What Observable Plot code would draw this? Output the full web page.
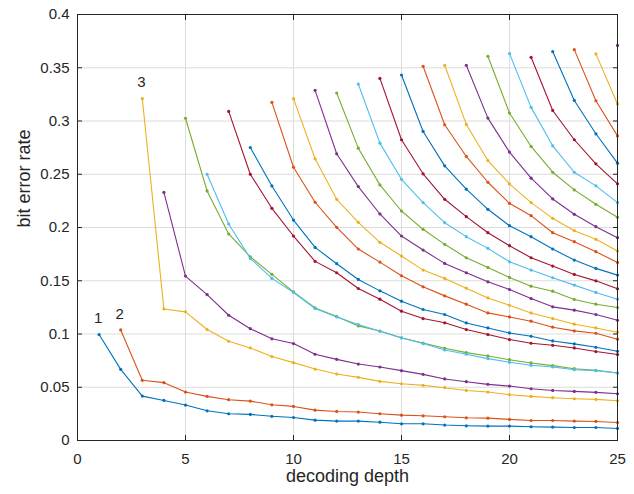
<!DOCTYPE html>
<html><head><meta charset="utf-8">
<script src="https://cdn.jsdelivr.net/npm/d3@7"></script>
<script src="https://cdn.jsdelivr.net/npm/@observablehq/plot@0.6"></script>
<style>body{margin:0;background:#fff;} svg{display:block;}</style>
</head><body><div id="chart"></div>
<script>
// Each series ends at decoding depth 25; it starts at 26 - length.
const maxDepth = 25;
const s1 = [0.0995,0.0668,0.0417,0.0376,0.0333,0.0279,0.0251,0.0245,0.0227,0.0216,0.0191,0.0182,0.0182,0.0172,0.0157,0.0157,0.0145,0.0138,0.0135,0.0135,0.0129,0.0126,0.0122,0.0122,0.0113];
const s2 = [0.1038,0.0565,0.0543,0.0455,0.0414,0.0383,0.0370,0.0335,0.0320,0.0285,0.0273,0.0267,0.0251,0.0238,0.0232,0.0223,0.0213,0.0210,0.0198,0.0188,0.0188,0.0182,0.0179,0.0169];
const s3 = [0.321,0.1235,0.1208,0.1042,0.0932,0.0869,0.0788,0.0731,0.0671,0.0624,0.0593,0.0555,0.0533,0.0518,0.0496,0.0470,0.0455,0.0430,0.0414,0.0402,0.0392,0.0386,0.0373];
const s4 = [0.233,0.1544,0.137,0.1176,0.105,0.0955,0.091,0.081,0.0762,0.0718,0.069,0.0656,0.0621,0.0578,0.0552,0.0527,0.0511,0.0486,0.047,0.0461,0.0452,0.0439];
const s5 = [0.3026,0.2343,0.1939,0.1725,0.156,0.1396,0.1245,0.1165,0.1076,0.1028,0.0965,0.0915,0.0866,0.0825,0.0794,0.0759,0.0728,0.0703,0.0674,0.0659,0.0634];
const s6 = [0.25,0.2033,0.171,0.1522,0.139,0.124,0.116,0.1089,0.1026,0.0963,0.091,0.085,0.081,0.0769,0.0734,0.0706,0.069,0.0665,0.0656,0.0634];
const s7 = [0.309,0.25,0.218,0.192,0.1682,0.1575,0.1427,0.1327,0.1214,0.1145,0.1105,0.1042,0.0995,0.0948,0.0913,0.0894,0.0869,0.0835,0.0807];
const s8 = [0.2751,0.239,0.207,0.1813,0.166,0.1512,0.1405,0.1308,0.123,0.1183,0.1104,0.1057,0.101,0.0979,0.0935,0.0907,0.0875,0.0838];
const s9 = [0.3175,0.2566,0.2237,0.2002,0.1798,0.1675,0.1547,0.1443,0.1358,0.128,0.1198,0.116,0.112,0.1064,0.1029,0.1007,0.0951];
const s10 = [0.321,0.2645,0.2265,0.2049,0.1861,0.1732,0.16,0.1522,0.143,0.1339,0.127,0.1198,0.1145,0.1092,0.1057,0.1016];
const s11 = [0.3288,0.2692,0.2384,0.2127,0.192,0.1788,0.1663,0.1575,0.149,0.1418,0.1333,0.1255,0.1224,0.1183,0.1129];
const s12 = [0.3263,0.2745,0.24,0.2155,0.1983,0.1842,0.1716,0.1625,0.1531,0.1449,0.1402,0.1324,0.128,0.1249];
const s13 = [0.3347,0.2792,0.2453,0.2234,0.2045,0.1914,0.1804,0.1678,0.16,0.1528,0.1459,0.139,0.1327];
const s14 = [0.34,0.2824,0.2504,0.2265,0.2102,0.1951,0.1829,0.1716,0.1638,0.1559,0.1499,0.1424];
const s15 = [0.3432,0.2902,0.2579,0.236,0.2171,0.2017,0.1914,0.1798,0.1694,0.1616,0.1553];
const s16 = [0.3514,0.2965,0.2667,0.2425,0.2227,0.2111,0.1951,0.1867,0.1773,0.1672];
const s17 = [0.3523,0.2968,0.2629,0.2409,0.2234,0.2086,0.197,0.1889,0.1779];
const s18 = [0.3523,0.3027,0.2708,0.2463,0.2268,0.2124,0.2008,0.1904];
const s19 = [0.3608,0.3075,0.2761,0.2519,0.2353,0.2218,0.2096];
const s20 = [0.3633,0.3128,0.2767,0.2519,0.2391,0.2234];
const s21 = [0.3598,0.3099,0.2824,0.2598,0.241];
const s22 = [0.3652,0.3193,0.288,0.2604];
const s23 = [0.367,0.319,0.286];
const s24 = [0.363,0.316];
const s25 = [0.371];
const seriesList = [s1,s2,s3,s4,s5,s6,s7,s8,s9,s10,s11,s12,s13,s14,s15,s16,s17,s18,s19,s20,s21,s22,s23,s24,s25];

const colors = ["#0072BD","#D95319","#EDB120","#7E2F8E","#77AC30","#4DBEEE","#A2142F"];
const xTicks = [0,5,10,15,20,25];
const yTicks = [0,0.05,0.1,0.15,0.2,0.25,0.3,0.35,0.4];
const yTickLabels = ["0","0.05","0.1","0.15","0.2","0.25","0.3","0.35","0.4"];
const curveLabels = ["1","2","3"];
const xLabel = "decoding depth";
const yLabel = "bit error rate";

const data = seriesList.flatMap((vals, i) =>
  vals.map((v, j) => ({series: i, depth: maxDepth - vals.length + 1 + j, ber: v})));
const labelData = curveLabels.map((t, i) => ({
  text: t, depth: maxDepth - seriesList[i].length + 1, ber: seriesList[i][0]}));

const ink = "#262626";
const plot = Plot.plot({
  width: 634, height: 494,
  marginLeft: 77, marginRight: 17, marginTop: 14, marginBottom: 54,
  style: {fontFamily: "'Liberation Sans', Arial, sans-serif", fontSize: "15px", color: ink, background: "white"},
  x: {domain: [0, 25]},
  y: {domain: [0, 0.4]},
  marks: [
    Plot.gridX(xTicks, {stroke: "#dcdcdc", strokeOpacity: 1}),
    Plot.gridY(yTicks, {stroke: "#dcdcdc", strokeOpacity: 1}),
    Plot.line(data, {x: "depth", y: "ber", z: "series", stroke: d => colors[d.series % 7], strokeWidth: 1.1}),
    Plot.dot(data, {x: "depth", y: "ber", r: 1.6, fill: d => colors[d.series % 7], stroke: null}),
    Plot.frame({stroke: ink}),
    Plot.axisX(xTicks, {anchor: "bottom", tickSize: 5, dy: -5, tickFormat: () => "", label: null, stroke: ink}),
    Plot.axisX(xTicks, {anchor: "top", tickSize: 5, dy: 5, tickFormat: () => "", label: null, stroke: ink}),
    Plot.axisY(yTicks, {anchor: "left", tickSize: 5, dx: 5, tickFormat: () => "", label: null, stroke: ink}),
    Plot.axisY(yTicks, {anchor: "right", tickSize: 5, dx: -5, tickFormat: () => "", label: null, stroke: ink}),
    Plot.axisX(xTicks, {anchor: "bottom", tickSize: 0, tickPadding: 13, label: null, fill: ink, fontSize: 15}),
    Plot.axisY(yTicks, {anchor: "left", tickSize: 0, tickPadding: 8, label: null, fill: ink, fontSize: 15,
      tickFormat: d => yTickLabels[yTicks.indexOf(d)]}),
    Plot.text([xLabel], {frameAnchor: "bottom", dy: 41, text: d => d, fontSize: 18, fill: ink}),
    Plot.text([yLabel], {frameAnchor: "left", dx: -53, rotate: -90, text: d => d, fontSize: 18, fill: ink}),
    Plot.text(labelData, {x: "depth", y: "ber", text: "text", dy: -16, dx: -1, fontSize: 15, fill: ink})
  ]
});
document.getElementById("chart").appendChild(plot);
</script>
</body></html>
